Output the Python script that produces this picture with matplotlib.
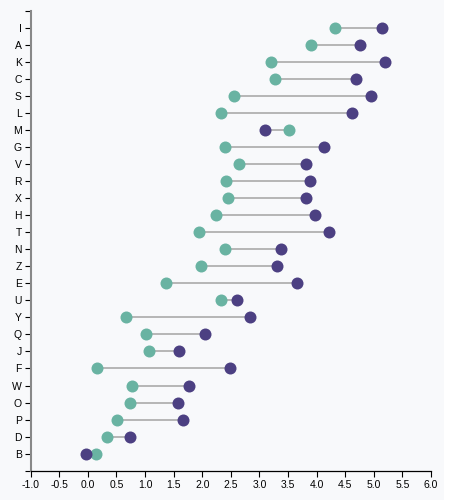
import numpy as np
import matplotlib.pyplot as plt
from matplotlib.patches import Rectangle

plt.rcParams['font.family'] = ['Liberation Sans', 'DejaVu Sans']

groups = ['I', 'A', 'K', 'C', 'S', 'L', 'M', 'G', 'V', 'R', 'X', 'H', 'T',
          'N', 'Z', 'E', 'U', 'Y', 'Q', 'J', 'F', 'W', 'O', 'P', 'D', 'B']
value1 = [4.33, 3.91, 3.20, 3.27, 2.55, 2.33, 3.52, 2.40, 2.65, 2.42, 2.45, 2.24, 1.94,
          2.40, 1.97, 1.37, 2.33, 0.66, 1.02, 1.07, 0.16, 0.77, 0.74, 0.51, 0.33, 0.14]
value2 = [5.14, 4.75, 5.19, 4.68, 4.95, 4.62, 3.10, 4.13, 3.82, 3.89, 3.82, 3.97, 4.22,
          3.38, 3.31, 3.66, 2.61, 2.83, 2.04, 1.59, 2.48, 1.76, 1.57, 1.66, 0.74, -0.03]
xticks = np.arange(-1.0, 6.01, 0.5)

W, H = 460, 500
fig = plt.figure(figsize=(W / 100, H / 100), dpi=100)
fig.patches.append(Rectangle((0, 0), 444 / W, 1, transform=fig.transFigure,
                             facecolor='#f8f9fb', edgecolor='none', zorder=-10))

left, right, top, bottom = 30.7, 431, 10.7, 470.7
ax = fig.add_axes([left / W, 1 - bottom / H, (right - left) / W, (bottom - top) / H])
ax.set_facecolor('none')

y = np.arange(len(groups))
ax.hlines(y, value1, value2, color='#aaaaaa', lw=1.2, zorder=1)
ax.scatter(value1, y, s=(12 * 0.72) ** 2, color='#69b3a2', linewidths=0, zorder=2)
ax.scatter(value2, y, s=(12 * 0.72) ** 2, color='#4C4082', linewidths=0, zorder=3)

ax.set_xlim(-1.0, 6.0)
ax.set_ylim(len(groups), -1)
ax.set_xticks(xticks)
ax.set_xticklabels([f'{v:.1f}' for v in xticks])
ax.set_yticks(list(y) + [-1, len(groups)])
ax.set_yticklabels(groups + ['', ''])

for s in ['top', 'right']:
    ax.spines[s].set_visible(False)
ax.spines['left'].set_color('#888888')
ax.spines['left'].set_linewidth(1.5)
ax.spines['bottom'].set_color('black')
ax.spines['bottom'].set_linewidth(0.9)
ax.tick_params(axis='both', length=4.3, width=0.8, color='black', labelsize=7.5,
               pad=2.2, labelcolor='black')

fig.savefig('out.png', dpi=100)
